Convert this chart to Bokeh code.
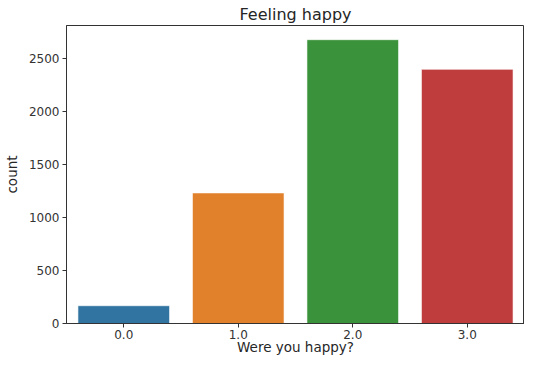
from bokeh.plotting import figure
from bokeh.models import Range1d, FactorRange, ColumnDataSource
from bokeh.embed import file_html
from bokeh.resources import INLINE

categories = ["0.0", "1.0", "2.0", "3.0"]
counts = [168, 1234, 2682, 2402]
colors = ["#3274a1", "#e1812c", "#3a923a", "#c03d3e"]
y_ticks = [0, 500, 1000, 1500, 2000, 2500]

src = ColumnDataSource(dict(x=categories, top=counts, color=colors))

p = figure(width=524, height=357, output_backend="svg", toolbar_location=None,
           x_range=FactorRange(factors=categories), y_range=Range1d(0, max(counts) * 1.05),
           title="Feeling happy")
p.min_border_left = 64
p.min_border_right = 0
p.min_border_top = 4
p.min_border_bottom = 0

p.vbar(x="x", top="top", width=0.8, color="color", line_color="white", line_width=0.6, source=src)

p.title.align = "center"
p.title.text_font = "DejaVu Sans"
p.title.text_font_size = "16px"
p.title.text_font_style = "normal"
p.title.text_color = "#262626"
p.title.standoff = 4

p.xgrid.visible = False
p.ygrid.visible = False
p.outline_line_color = "#333333"
p.outline_line_width = 1

for ax in (p.xaxis[0], p.yaxis[0]):
    ax.major_label_text_font = "DejaVu Sans"
    ax.major_label_text_font_size = "12px"
    ax.major_label_text_color = "#333333"
    ax.axis_label_text_font = "DejaVu Sans"
    ax.axis_label_text_font_size = "13.5px"
    ax.axis_label_text_font_style = "normal"
    ax.axis_label_text_color = "#262626"
    ax.axis_line_color = "#333333"
    ax.major_tick_line_color = "#333333"
    ax.major_tick_out = 4
    ax.major_tick_in = 0
    ax.minor_tick_line_color = None
    ax.major_label_standoff = 3

p.yaxis.ticker = y_ticks
p.yaxis.axis_label = "count"
p.xaxis.axis_label = "Were you happy?"
p.xaxis.major_label_standoff = 2
p.xaxis.axis_label_standoff = -3
p.yaxis.axis_label_standoff = 6

open("out.html", "w").write(file_html(p, INLINE))
